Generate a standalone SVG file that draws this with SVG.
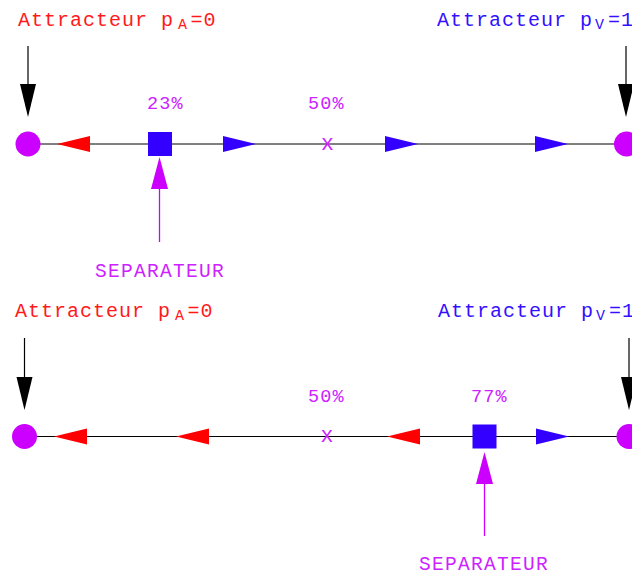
<svg xmlns="http://www.w3.org/2000/svg" width="632" height="576" viewBox="0 0 632 576">
  <style>
    text { font-family: "Liberation Mono", "DejaVu Sans Mono", monospace; }
    .title { font-size: 20px; letter-spacing: 1px; }
    .sub { font-size: 15px; letter-spacing: 0; }
    .red { fill: #ff1a1a; }
    .blue { fill: #3311ff; }
    .pct { font-size: 18.5px; letter-spacing: 1.1px; fill: #cc22ff; }
    .mark { font-size: 21.5px; fill: #cc22ff; text-anchor: middle; }
    .sep { font-size: 19.5px; letter-spacing: 1.3px; fill: #cc22ff; }
    .axis { stroke: #000; stroke-width: 1; fill: none; }
    .pin { stroke: #000; stroke-width: 1.2; }
    .seppin { stroke: #cc00ff; stroke-width: 1.3; }
    .dot { fill: #cc00ff; }
    .box { fill: #3300ff; }
  </style>
  <defs>
    <!-- flow heads: tip at x=0 for left, x=33 for right -->
    <path id="flow-left" d="M0,0 L33,-8 L33,8 Z" fill="#ff0000"/>
    <path id="flow-right" d="M0,-8 L33,0 L0,8 Z" fill="#3300ff"/>
    <path id="pin-head" d="M-8,0 L8,0 L0,33 Z" fill="#000"/>
    <path id="sep-head" d="M0,0 L8.5,32 L-8.5,32 Z" fill="#cc00ff"/>
  </defs>

  <!-- ===== Upper axis: separator at 23% ===== -->
  <g id="connectors-top">
    <line class="axis" x1="28" y1="144" x2="626" y2="144" stroke="#444"/>
    <use href="#flow-left" x="57" y="144"/>
    <use href="#flow-right" x="223" y="144"/>
    <use href="#flow-right" x="385" y="144"/>
    <use href="#flow-right" x="535" y="144"/>
    <line class="pin" x1="28" y1="46" x2="28" y2="85"/>
    <use href="#pin-head" x="28" y="84"/>
    <line class="pin" x1="626" y1="46" x2="626" y2="85"/>
    <use href="#pin-head" x="626" y="84"/>
    <line class="seppin" x1="159.5" y1="186" x2="159.5" y2="242"/>
    <use href="#sep-head" x="159.5" y="157"/>
  </g>

  <g id="attractor-a-top">
    <circle class="dot" cx="28" cy="144" r="12.5"/>
    <text class="title red" x="18" y="26">Attracteur p<tspan class="sub" x="178" dy="2.5">A</tspan><tspan x="190.5" dy="-2.5">=0</tspan></text>
  </g>
  <g id="attractor-v-top">
    <circle class="dot" cx="626.5" cy="144" r="12.5"/>
    <text class="title blue" x="437" y="26">Attracteur p<tspan class="sub" x="595" dy="2.5">V</tspan><tspan x="608" dy="-2.5">=1</tspan></text>
  </g>
  <g id="separator-top">
    <rect class="box" x="148" y="132" width="24" height="24"/>
    <text class="pct" x="147" y="108.5">23%</text>
    <text class="sep" x="95" y="277">SEPARATEUR</text>
  </g>
  <g id="midpoint-top">
    <text class="pct" x="308" y="109">50%</text>
    <text class="mark" x="327.5" y="149.5">x</text>
  </g>

  <!-- ===== Lower axis: separator at 77% ===== -->
  <g id="connectors-bottom">
    <line class="axis" x1="24.5" y1="436.5" x2="629" y2="436.5"/>
    <use href="#flow-left" x="54" y="436.5"/>
    <use href="#flow-left" x="176" y="436.5"/>
    <use href="#flow-left" x="387" y="436.5"/>
    <use href="#flow-right" x="536" y="436.5"/>
    <line class="pin" x1="24.5" y1="338" x2="24.5" y2="378"/>
    <use href="#pin-head" x="24.5" y="377"/>
    <line class="pin" x1="629" y1="338" x2="629" y2="378"/>
    <use href="#pin-head" x="629" y="377"/>
    <line class="seppin" x1="484.5" y1="481" x2="484.5" y2="536"/>
    <use href="#sep-head" x="484.5" y="452"/>
  </g>

  <g id="attractor-a-bottom">
    <circle class="dot" cx="24.5" cy="436.5" r="12.5"/>
    <text class="title red" x="15" y="317">Attracteur p<tspan class="sub" x="175" dy="2.5">A</tspan><tspan x="187.5" dy="-2.5">=0</tspan></text>
  </g>
  <g id="attractor-v-bottom">
    <circle class="dot" cx="629" cy="436.5" r="12.5"/>
    <text class="title blue" x="438" y="317">Attracteur p<tspan class="sub" x="596" dy="2.5">V</tspan><tspan x="609" dy="-2.5">=1</tspan></text>
  </g>
  <g id="separator-bottom">
    <rect class="box" x="472.5" y="424.5" width="24" height="24"/>
    <text class="pct" x="471" y="402">77%</text>
    <text class="sep" x="419" y="570">SEPARATEUR</text>
  </g>
  <g id="midpoint-bottom">
    <text class="pct" x="308" y="402">50%</text>
    <text class="mark" x="327" y="442">x</text>
  </g>
</svg>
